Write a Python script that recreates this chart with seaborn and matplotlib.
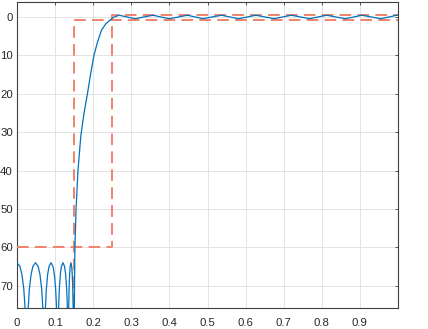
import matplotlib
matplotlib.use("Agg")
import matplotlib.pyplot as plt
import seaborn as sns
import pandas as pd

# Normalized frequency (x pi rad/sample) and attenuation in dB (0 at top, larger = lower)
resp_freq = [0.0, 0.0077, 0.0128, 0.0179, 0.0214, 0.0255,
             0.0292, 0.0324, 0.0371, 0.0417, 0.0486, 0.0555, 0.0602, 0.0648, 0.0680, 0.0717,
             0.0745, 0.0770, 0.0805, 0.0840, 0.0893, 0.0945, 0.0980, 0.1015, 0.1040, 0.1068,
             0.1090, 0.1110, 0.1138, 0.1165, 0.1207, 0.1249, 0.1277, 0.1304, 0.1324, 0.1346,
             0.1357, 0.1367, 0.1381, 0.1395, 0.1416, 0.1436, 0.1450, 0.1464, 0.1474, 0.1488,
             0.1505, 0.152, 0.155, 0.160, 0.1675, 0.176, 0.185, 0.193, 0.202, 0.212,
             0.222, 0.233, 0.244, 0.255, 0.268, 0.289, 0.31, 0.333, 0.357, 0.378, 0.40,
             0.424, 0.447, 0.468, 0.488, 0.512, 0.537, 0.559, 0.581, 0.604, 0.627, 0.651,
             0.675, 0.697, 0.720, 0.744, 0.768, 0.790, 0.813, 0.837, 0.862, 0.884, 0.905,
             0.930, 0.955, 0.976, 0.997, 1.0]
resp_att = [64.0, 65.0, 67.0, 70.9, 76.1, 110,
            76.1, 70.9, 67.0, 65.0, 64.0, 65.0, 67.0, 70.9, 76.1, 110,
            76.1, 70.9, 67.0, 65.0, 64.0, 65.0, 67.0, 70.9, 76.1, 110,
            76.1, 70.9, 67.0, 65.0, 64.0, 65.0, 67.0, 70.9, 76.1, 110,
            76.1, 70.9, 67.0, 65.0, 64.0, 65.0, 67.0, 70.9, 76.1, 110,
            75.0, 60.0, 50.0, 40.0, 31.0, 25.0, 19.9, 15.0, 10.0, 6.3,
            3.4, 1.8, 0.8, 0.0, -0.45, 0.0, 0.45, 0.0, -0.45, 0.0, 0.45,
            0.0, -0.45, 0.0, 0.45, 0.0, -0.45, 0.0, 0.45, 0.0, -0.45, 0.0,
            0.45, 0.0, -0.45, 0.0, 0.45, 0.0, -0.45, 0.0, 0.45, 0.0, -0.45,
            0.0, 0.45, 0.0, -0.45, -0.44]

# Specification mask (two dashed polylines)
maskA_freq = [0.0, 0.25, 0.25, 1.0]
maskA_att = [60.0, 60.0, -0.5, -0.5]
maskB_freq = [0.15, 0.15, 1.0]
maskB_att = [80.0, 0.7, 0.7]

x_ticks = [0, 0.1, 0.2, 0.3, 0.4, 0.5, 0.6, 0.7, 0.8, 0.9]
x_tick_labels = ["0", "0.1", "0.2", "0.3", "0.4", "0.5", "0.6", "0.7", "0.8", "0.9"]
y_ticks = [0, 10, 20, 30, 40, 50, 60, 70]
y_tick_labels = ["0", "10", "20", "30", "40", "50", "60", "70"]

sns.set_theme(style="white")
plt.rcParams['font.family'] = ['Liberation Sans', 'DejaVu Sans']

fig = plt.figure(figsize=(4.28, 3.29), dpi=100)
ax = fig.add_axes([17 / 428, 1 - 308 / 329, 381 / 428, 306 / 329])

resp = pd.DataFrame({"f": resp_freq, "a": resp_att})
mA = pd.DataFrame({"f": maskA_freq, "a": maskA_att})
mB = pd.DataFrame({"f": maskB_freq, "a": maskB_att})

mask_color = "#F0826C"
for m in (mA, mB):
    sns.lineplot(data=m, x="f", y="a", ax=ax, sort=False, estimator=None,
                 color=mask_color, linewidth=1.4, dashes=False, zorder=3)
for line in ax.lines:
    line.set_dashes([6.0, 3.2])

sns.lineplot(data=resp, x="f", y="a", ax=ax, sort=False, estimator=None,
             color="#0072BD", linewidth=0.9, zorder=4)

ax.set_xlim(0, 1.0)
ax.set_ylim(75.8, -3.9)
ax.set_xticks(x_ticks)
ax.set_xticklabels(x_tick_labels)
ax.set_yticks(y_ticks)
ax.set_yticklabels(y_tick_labels)
ax.set_xlabel("")
ax.set_ylabel("")

ax.grid(True, color="#E3E3E3", linewidth=0.7, zorder=0)
ax.set_axisbelow(True)
for s in ax.spines.values():
    s.set_visible(True)
    s.set_color("#404040")
    s.set_linewidth(0.8)

ax.tick_params(axis="both", direction="in", length=2.5, width=0.6, color="#404040",
               labelsize=8.2, labelcolor="#262626", top=True, right=True,
               labeltop=False, labelright=False)
ax.tick_params(axis="x", pad=7)
ax.tick_params(axis="y", pad=3)

fig.savefig("out.png", dpi=100)
